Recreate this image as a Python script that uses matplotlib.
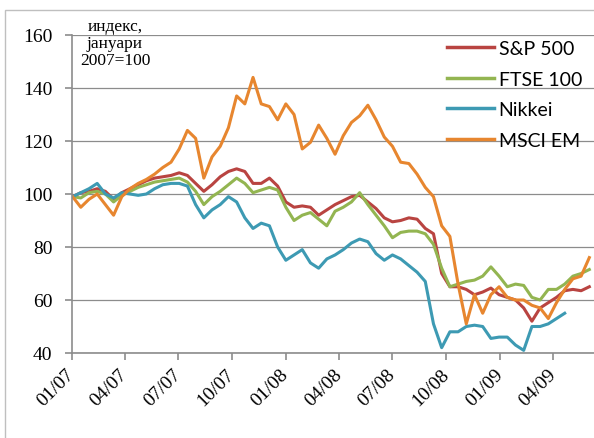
import numpy as np
import pandas as pd
import matplotlib
matplotlib.use("Agg")
import matplotlib.pyplot as plt
import matplotlib.dates as mdates
from matplotlib.patches import Rectangle

# --- data: index, January 2007 = 100, read every two weeks ---
dates = pd.date_range("2007-01-02", periods=64, freq="14D")

sp500 = [99, 100.5, 101, 102, 101, 98, 100.5, 102, 103.5, 105, 106, 106.5, 107, 108,
         107, 104, 101, 103.5, 106.5, 108.5, 109.5, 108.5, 104, 104, 106, 103, 97, 95,
         95.5, 95, 92, 94, 96, 97.5, 99, 99.5, 97, 94.5, 91, 89.5, 90, 91, 90.5, 87,
         85, 70, 65, 65, 64, 62, 63, 64.5, 62, 61, 60, 57, 52, 57, 59, 61, 63.5, 64,
         63.5, 65]
ftse100 = [99, 98.5, 100.5, 101, 100, 97, 99.5, 101, 102.5, 103.5, 104.5, 105, 105.5, 106,
           104.5, 101, 96, 99, 101, 103.5, 106, 104, 100.5, 101.5, 102.5, 101.5, 95, 90,
           92, 93, 90.5, 88, 93.5, 95, 97, 100.5, 96, 92, 88, 83.5, 85.5, 86, 86, 85,
           81, 72, 65, 66, 67, 67.5, 69, 72.5, 69, 65, 66, 65.5, 61, 60, 64, 64, 66, 69,
           70, 71.5]
nikkei = [99, 100.5, 102, 104, 100, 98.5, 100.5, 100, 99.5, 100, 102, 103.5, 104, 104,
          103, 96, 91, 94, 96, 99, 97, 91, 87, 89, 88, 80, 75, 77,
          79, 74, 72, 75.5, 77, 79, 81.5, 83, 82, 77.5, 75, 77, 75.5, 73, 70.5, 67,
          51, 42, 48, 48, 50, 50.5, 50, 45.5, 46, 46, 43, 41, 50, 50, 51, 53, 55]
msci_em = [99, 95, 98, 100, 96, 92, 99, 102, 104, 105.5, 107.5, 110, 112, 117,
           124, 121, 106, 114, 118, 125, 137, 134, 144, 134, 133, 128, 134, 130,
           117, 119.5, 126, 121, 115, 122, 127, 129.5, 133.5, 128, 121.5, 118, 112, 111.5, 107.5, 102.5,
           99, 88, 84, 66, 51, 62, 55, 62, 65, 61, 60, 60, 58, 57, 53, 59, 64, 68,
           69, 76]

series = [("S&P 500", sp500, "#B94441"),
          ("FTSE 100", ftse100, "#93B551"),
          ("Nikkei", nikkei, "#3D9AB3"),
          ("MSCI EM", msci_em, "#E7862F")]

quarter_ticks = pd.date_range("2007-01-01", "2009-04-01", freq="QS")
y_ticks = [40, 60, 80, 100, 120, 140, 160]

GRAY = "#8C8C8C"
SERIF = "Liberation Serif"

fig = plt.figure(figsize=(5.94, 4.39), dpi=100)
fig.patches.append(Rectangle((5 / 594, -0.05), 1.1, 1 - 11 / 439 + 0.05,
                             transform=fig.transFigure, fill=False,
                             edgecolor="#BFBFBF", linewidth=1.0))

ax = fig.add_axes([72 / 594, 1 - 354 / 439, 1 - 72 / 594, (354 - 36) / 439])

for name, vals, color in series:
    ax.plot(dates[:len(vals)], vals, color=color, linewidth=2.2, label=name,
            solid_joinstyle="round")

ax.set_ylim(40, 160)
ax.set_yticks(y_ticks)
ax.set_xlim(pd.Timestamp("2007-01-01"), pd.Timestamp("2009-06-10"))
ax.set_xticks(quarter_ticks)
ax.set_xticklabels([d.strftime("%m/%y") for d in quarter_ticks])
ax.grid(axis="y", color=GRAY, linewidth=0.9)
ax.set_axisbelow(True)

for side in ["top", "right"]:
    ax.spines[side].set_visible(False)
for side in ["left", "bottom"]:
    ax.spines[side].set_color(GRAY)
    ax.spines[side].set_linewidth(1.2)

ax.tick_params(axis="both", direction="out", length=5, width=1.2, color=GRAY,
               labelsize=14, labelcolor="black")
ax.tick_params(axis="y", pad=9)
ax.tick_params(axis="x", pad=8)
for lbl in ax.get_yticklabels():
    lbl.set_family(SERIF)
for lbl in ax.get_xticklabels():
    lbl.set_family(SERIF)
    lbl.set_rotation(45)
    lbl.set_ha("right")
    lbl.set_va("center")
    lbl.set_rotation_mode("anchor")

ax.text(115 / 594, 1 - 44 / 439, "индекс,\nјануари\n2007=100", transform=fig.transFigure,
        ha="center", va="center", fontsize=12.5, family=SERIF, linespacing=1.05)

leg = ax.legend(loc="upper left", bbox_to_anchor=(447 / 594, 1 - 41 / 439),
                bbox_transform=fig.transFigure, frameon=False, borderpad=0,
                borderaxespad=0, handlelength=2.4, handletextpad=0.25,
                labelspacing=0.7, prop={"family": "Lato", "size": 14})
for line in leg.get_lines():
    line.set_linewidth(2.5)

fig.savefig("out.png", dpi=100)
